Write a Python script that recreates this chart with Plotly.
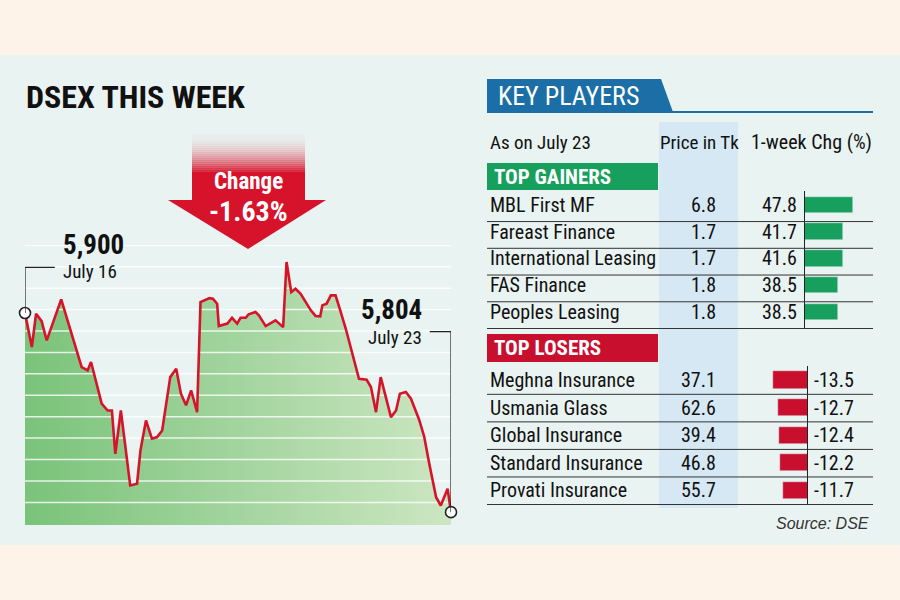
import plotly.graph_objects as go

# DSEX intraday path over the week (t = % of week elapsed)
t = [0, 1.6, 2.6, 3.9, 5.1, 8.5, 13.3, 14.7, 15.5, 18.0, 19.4, 20.4, 21.2, 22.5, 24.7,
     26.3, 27.1, 28.4, 29.8, 31.0, 32.2, 34.1, 35.5, 36.6, 37.8, 39.0, 40.4, 41.2, 43.3,
     44.1, 45.1, 45.5, 47.5, 48.6, 49.8, 50.6, 51.8, 52.5, 54.1, 54.9, 56.5, 58.8, 60.6,
     61.4, 62.5, 63.5, 64.7, 67.1, 68.2, 69.3, 69.8, 70.8, 71.8, 72.9, 74.0, 75.3, 78.4,
     80.2, 81.2, 82.4, 83.5, 85.9, 87.1, 88.0, 89.4, 90.6, 92.5, 93.7, 94.9, 96.5, 97.6,
     99.2, 100]
dsex = [5900, 5883.6, 5899.7, 5896.1, 5886.8, 5906.6, 5873.9, 5872.3, 5876.4, 5856.3,
        5853.0, 5853.0, 5832.1, 5853.0, 5816.9, 5817.7, 5833.8, 5848.2, 5839.4, 5840.2,
        5843.4, 5869.1, 5873.1, 5861.1, 5855.5, 5862.7, 5852.2, 5905.3, 5907.2, 5906.9,
        5904.5, 5893.7, 5894.9, 5897.7, 5894.9, 5897.7, 5897.7, 5899.4, 5900.5, 5898.9,
        5893.7, 5896.5, 5893.2, 5924.6, 5910.1, 5911.7, 5909.3, 5901.3, 5898.6, 5898.4,
        5903.7, 5904.5, 5908.5, 5908.5, 5901.3, 5892.4, 5868.3, 5867.8, 5864.3, 5852.2,
        5869.1, 5849.8, 5853.0, 5861.1, 5861.9, 5858.7, 5848.7, 5840.5, 5827.3, 5811.2,
        5807.2, 5815.3, 5804]
start_label = "July 16"
end_label = "July 23"

gainers = ["MBL First MF", "Fareast Finance", "International Leasing", "FAS Finance", "Peoples Leasing"]
gainer_price = [6.8, 1.7, 1.7, 1.8, 1.8]
gainer_chg = [47.8, 41.7, 41.6, 38.5, 38.5]

losers = ["Meghna Insurance", "Usmania Glass", "Global Insurance", "Standard Insurance", "Provati Insurance"]
loser_price = [37.1, 62.6, 39.4, 46.8, 55.7]
loser_chg = [-13.5, -12.7, -12.4, -12.2, -11.7]

FONT = "Roboto Condensed, DejaVu Sans Condensed, Roboto, sans-serif"
CREAM = "#fdf3e9"
PANEL = "#e9f3f1"
RED = "#d7132b"
GREEN = "#17a05d"
LOSS = "#c8102e"
BLUE = "#1b6fa6"

# horizontal guide lines of the index chart (drawn over the fill)
GRID0, GRID_STEP, GRID_N = 5808.7, 10.33, 13


def px(x):
    return x / 900


def py(y):
    return 1 - y / 600


fig = go.Figure()

# gradient area under the index
fig.add_trace(go.Scatter(
    x=t, y=dsex, mode="lines", fill="tozeroy", line=dict(width=0),
    fillgradient=dict(type="horizontal",
                      colorscale=[[0, "rgb(122,195,122)"], [1, "rgb(204,230,194)"]]),
    hoverinfo="skip", showlegend=False, xaxis="x", yaxis="y"))

grid_x, grid_y = [], []
for k in range(GRID_N):
    g = GRID0 + k * GRID_STEP
    grid_x += [t[0], t[-1], None]
    grid_y += [g, g, None]
fig.add_trace(go.Scatter(x=grid_x, y=grid_y, mode="lines",
                         line=dict(color="rgba(255,255,255,0.8)", width=1.5),
                         hoverinfo="skip", showlegend=False, xaxis="x", yaxis="y"))

fig.add_trace(go.Scatter(x=t, y=dsex, mode="lines", line=dict(color=RED, width=2.6),
                         hoverinfo="skip", showlegend=False, xaxis="x", yaxis="y"))
fig.add_trace(go.Scatter(
    x=[t[0], t[-1]], y=[dsex[0], dsex[-1]], mode="markers", cliponaxis=False,
    marker=dict(size=11, color="white", line=dict(color="#222", width=1.6)),
    hoverinfo="skip", showlegend=False, xaxis="x", yaxis="y"))

# gainers / losers bars
fig.add_trace(go.Bar(x=gainer_chg, y=gainers, orientation="h", marker_color=GREEN,
                     width=0.62, xaxis="x2", yaxis="y2", showlegend=False, hoverinfo="skip"))
fig.add_trace(go.Bar(x=loser_chg, y=losers, orientation="h", marker_color=LOSS,
                     width=0.62, xaxis="x3", yaxis="y3", showlegend=False, hoverinfo="skip"))

shapes = [
    dict(type="rect", xref="paper", yref="paper", x0=0, x1=1, y0=py(55), y1=1,
         fillcolor=CREAM, line_width=0, layer="below"),
    dict(type="rect", xref="paper", yref="paper", x0=0, x1=1, y0=0, y1=py(545),
         fillcolor=CREAM, line_width=0, layer="below"),
    dict(type="rect", xref="paper", yref="paper", x0=px(659), x1=px(738), y0=py(508), y1=py(122),
         fillcolor="#d5e8f4", line_width=0, layer="below"),
    # key players banner
    dict(type="path", xref="paper", yref="paper",
         path=f"M{px(487)},{py(79)} L{px(661)},{py(79)} L{px(673)},{py(112)} L{px(487)},{py(112)} Z",
         fillcolor=BLUE, line_width=0),
    dict(type="line", xref="paper", yref="paper", x0=px(487), x1=px(873), y0=py(112), y1=py(112),
         line=dict(color=BLUE, width=2)),
    dict(type="rect", xref="paper", yref="paper", x0=px(487), x1=px(658), y0=py(190), y1=py(163),
         fillcolor=GREEN, line_width=0),
    dict(type="rect", xref="paper", yref="paper", x0=px(487), x1=px(658), y0=py(362), y1=py(334),
         fillcolor=LOSS, line_width=0),
    # change arrow
    dict(type="path", xref="paper", yref="paper",
         path=(f"M{px(192)},{py(172)} L{px(192)},{py(200)} L{px(168)},{py(200)} L{px(248)},{py(249)} "
               f"L{px(326)},{py(200)} L{px(305)},{py(200)} L{px(305)},{py(172)} Z"),
         fillcolor=RED, line_width=0),
    # leader lines
    dict(type="path", xref="x", yref="y",
         path=f"M{t[0]},{dsex[0]} L{t[0]},{dsex[0] + 22} L{t[0] + 7},{dsex[0] + 22}",
         line=dict(color="#222", width=1.2)),
    dict(type="path", xref="x", yref="y",
         path=f"M{t[-1]},{dsex[-1]} L{t[-1]},{dsex[-1] + 87} L{t[-1] - 5},{dsex[-1] + 87}",
         line=dict(color="#222", width=1.2)),
]
# faded top of the arrow shaft
steps = 20
for i in range(steps):
    y_top = 134 + i * 2
    shapes.append(dict(type="rect", xref="paper", yref="paper", x0=px(192), x1=px(305),
                       y0=py(y_top + 2.2), y1=py(y_top), fillcolor=RED,
                       opacity=0.02 + 0.95 * (i / (steps - 1)) ** 2, line_width=0))
# row separators
for i in range(len(gainers)):
    shapes.append(dict(type="line", xref="paper", yref="y2", x0=px(487), x1=px(873),
                       y0=i + 0.62, y1=i + 0.62, line=dict(color="#333", width=1)))
for i in range(len(losers)):
    shapes.append(dict(type="line", xref="paper", yref="y3", x0=px(487), x1=px(873),
                       y0=i + 0.52, y1=i + 0.52, line=dict(color="#333", width=1)))

ann = []


def text(x, y, s, size, color="#111", xanchor="left", weight="normal", family=FONT, style="normal",
         xref="paper", yref="paper"):
    ann.append(dict(x=x, y=y, xref=xref, yref=yref, text=s, showarrow=False, xanchor=xanchor,
                    yanchor="middle",
                    font=dict(family=family, size=size, color=color, weight=weight, style=style)))


text(px(24), py(97), "DSEX THIS WEEK", 32, weight="bold")
text(px(248), py(181), "Change", 23, color="white", xanchor="center", weight="bold")
text(px(248), py(212), f"{(dsex[-1] - dsex[0]) / dsex[0] * 100:.2f}%", 28, color="white",
     xanchor="center", weight="bold")
text(px(61), py(245), f"{dsex[0]:,.0f}", 27, weight="bold")
text(px(61), py(271), start_label, 19)
text(px(424), py(310), f"{dsex[-1]:,.0f}", 27, weight="bold", xanchor="right")
text(px(424), py(337), end_label, 19, xanchor="right")

text(px(496), py(96), "KEY PLAYERS", 26, color="white")
text(px(488), py(142), "As on July 23", 19)
text(px(699), py(142), "Price in Tk", 19, xanchor="center")
text(px(874), py(142), "1-week Chg (%)", 20, xanchor="right")
text(px(492), py(177), "TOP GAINERS", 21, color="white", weight="bold")
text(px(492), py(348), "TOP LOSERS", 21, color="white", weight="bold")

for name, price, chg in zip(gainers, gainer_price, gainer_chg):
    text(px(488), name, name, 20, yref="y2")
    text(px(718), name, f"{price:.1f}", 20, xanchor="right", yref="y2")
    text(px(799), name, f"{chg:.1f}", 20, xanchor="right", yref="y2")
for name, price, chg in zip(losers, loser_price, loser_chg):
    text(px(488), name, name, 20, yref="y3")
    text(px(718), name, f"{price:.1f}", 20, xanchor="right", yref="y3")
    text(px(812), name, f"{chg:.1f}", 20, yref="y3")

text(px(871), py(523), "Source: DSE", 16, color="#333", xanchor="right",
     family="Liberation Sans, Arial, sans-serif", style="italic")

fig.update_layout(
    width=900, height=600, margin=dict(l=0, r=0, t=0, b=0),
    paper_bgcolor=PANEL, plot_bgcolor="rgba(0,0,0,0)",
    shapes=shapes, annotations=ann, bargap=0,
    xaxis=dict(domain=[px(25), px(451)], range=[0, 100], visible=False),
    yaxis=dict(domain=[py(525), py(245)], range=[5797.8, 5932.8], showgrid=False,
               showticklabels=False, zeroline=False, showline=False),
    xaxis2=dict(domain=[px(805), px(873)], range=[18, 60.5], visible=False, anchor="y2"),
    yaxis2=dict(domain=[py(329), py(191)], autorange="reversed", anchor="x2", showline=True,
                linecolor="#222", linewidth=1.2, showticklabels=False, showgrid=False,
                zeroline=False, ticks=""),
    xaxis3=dict(domain=[px(740), px(807)], range=[-19.4, -7.43], visible=False, anchor="y3"),
    yaxis3=dict(domain=[py(505), py(366)], autorange="reversed", anchor="x3", side="right",
                showline=True, linecolor="#222", linewidth=1.2, showticklabels=False,
                showgrid=False, zeroline=False, ticks=""),
)

fig.write_html("out.html", config={"displayModeBar": False},
               post_script="document.body.style.margin = '0';")
